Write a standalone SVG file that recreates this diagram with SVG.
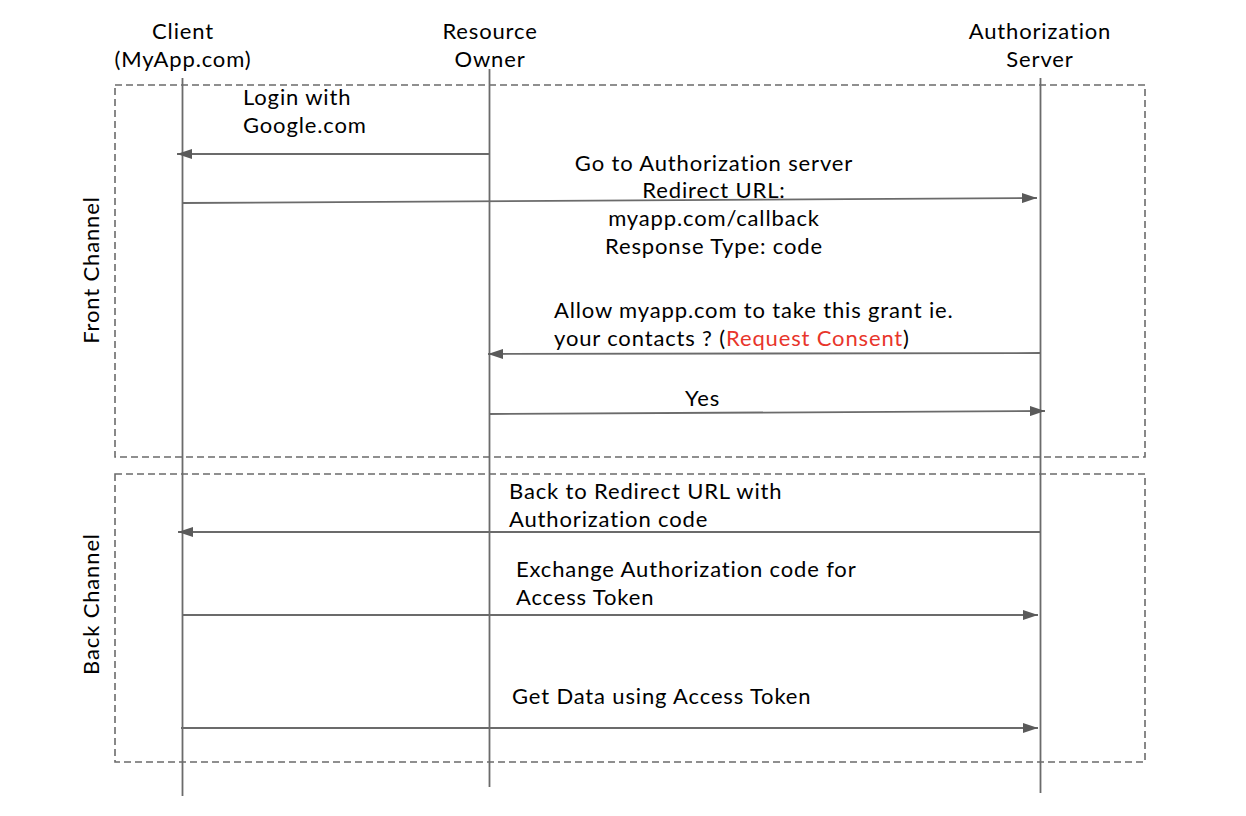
<svg xmlns="http://www.w3.org/2000/svg" width="1246" height="816" viewBox="0 0 1246 816">
<style>
text{font-family:Lato,"Noto Sans","Liberation Sans",sans-serif;font-size:22px;letter-spacing:0.85px;fill:#000}
.c{text-anchor:middle}
.box{fill:none;stroke:#6b6b6b;stroke-width:1.6;stroke-dasharray:7 4}
.life{stroke:#6b6b6b;stroke-width:1.8;fill:none}
.msg{stroke:#6b6b6b;stroke-width:1.8;fill:none}
.red{fill:#e8352b}
</style>
<defs>
<marker id="ah" viewBox="0 0 15 10" refX="15" refY="5" markerWidth="15" markerHeight="10" markerUnits="userSpaceOnUse" orient="auto">
<path d="M0,0 L15,5 L0,10 z" fill="#5a5a5a"/>
</marker>
</defs>
<rect width="1246" height="816" fill="#fff"/>
<g id="frames">
<rect id="front-channel" class="box" x="115" y="85" width="1030" height="372"/>
<rect id="back-channel" class="box" x="115" y="474" width="1030" height="288"/>
<text class="c" transform="translate(99,270) rotate(-90)">Front Channel</text>
<text class="c" transform="translate(99,604) rotate(-90)">Back Channel</text>
</g>
<g id="client">
<text class="c" x="183" y="39">Client</text>
<text class="c" x="183" y="67">(MyApp.com)</text>
<line class="life" x1="182.5" y1="78" x2="182.5" y2="796"/>
</g>
<g id="resource-owner">
<text class="c" x="490" y="39">Resource</text>
<text class="c" x="490" y="67">Owner</text>
<line class="life" x1="489.5" y1="69" x2="489.5" y2="787"/>
</g>
<g id="authorization-server">
<text class="c" x="1040" y="39">Authorization</text>
<text class="c" x="1040" y="67">Server</text>
<line class="life" x1="1040.5" y1="78" x2="1040.5" y2="793"/>
</g>
<g id="connectors">
<line class="msg" x1="489" y1="154" x2="177" y2="154" marker-end="url(#ah)"/>
<line class="msg" x1="182" y1="203" x2="1037" y2="198" marker-end="url(#ah)"/>
<line class="msg" x1="1040" y1="353" x2="488" y2="354" marker-end="url(#ah)"/>
<line class="msg" x1="489" y1="414" x2="1045" y2="411" marker-end="url(#ah)"/>
<line class="msg" x1="1040" y1="532" x2="178" y2="532" marker-end="url(#ah)"/>
<line class="msg" x1="182" y1="615" x2="1038" y2="615" marker-end="url(#ah)"/>
<line class="msg" x1="181" y1="728" x2="1038" y2="728" marker-end="url(#ah)"/>
</g>
<g id="labels">
<text x="243" y="105">Login with</text>
<text x="243" y="133">Google.com</text>
<text class="c" x="714" y="171">Go to Authorization server</text>
<text class="c" x="714" y="198">Redirect URL:</text>
<text class="c" x="714" y="226">myapp.com/callback</text>
<text class="c" x="714" y="254">Response Type: code</text>
<text x="554" y="318">Allow myapp.com to take this grant ie.</text>
<text x="554" y="346">your contacts ? (<tspan class="red">Request Consent</tspan>)</text>
<text x="685" y="406">Yes</text>
<text x="509" y="499">Back to Redirect URL with</text>
<text x="509" y="527">Authorization code</text>
<text x="516" y="577">Exchange Authorization code for</text>
<text x="516" y="605">Access Token</text>
<text x="512" y="704">Get Data using Access Token</text>
</g>
</svg>
